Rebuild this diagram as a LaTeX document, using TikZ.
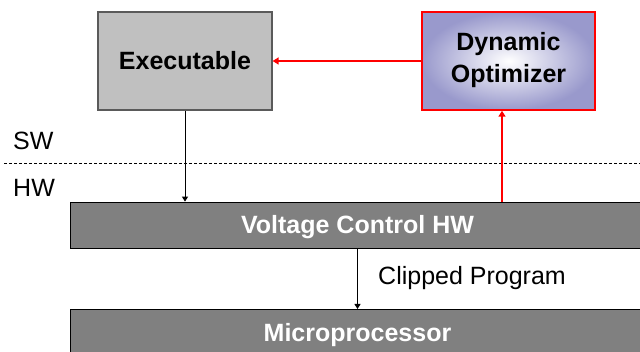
\documentclass[tikz,border=0pt]{standalone}
\usepackage{fontspec}
\setmainfont{Liberation Sans}
\usetikzlibrary{arrows.meta}
\definecolor{exefill}{HTML}{C0C0C0}
\definecolor{exeborder}{HTML}{5A5A5A}
\definecolor{barfill}{HTML}{808080}
\definecolor{optouter}{HTML}{9999CC}
\definecolor{optred}{HTML}{FF0000}
\tikzset{
  x=1pt, y=1pt,
  txt/.style={font=\fontsize{25}{30}\selectfont},
  boldtxt/.style={font=\fontsize{25}{30}\selectfont\bfseries},
  exebox/.style={draw=exeborder, line width=1.2pt, fill=exefill, minimum width=174pt, minimum height=98pt, inner sep=0pt, boldtxt, text height=18pt, text depth=0pt},
  optbox/.style={draw=optred, line width=1.5pt, inner color=white, outer color=optouter, minimum width=173pt, minimum height=98pt, inner sep=0pt, boldtxt, align=center},
  bar/.style={draw=black, line width=0.8pt, fill=barfill, inner sep=0pt, text=white, boldtxt, text height=18pt, text depth=0pt},
  blackarrow/.style={draw=black, line width=1pt, -{Triangle[length=5pt,width=6pt]}},
  redarrow/.style={draw=optred, line width=1.5pt, -{Triangle[length=6pt,width=7pt]}},
}
\begin{document}
\begin{tikzpicture}
\useasboundingbox (0,0) rectangle (640,-352);
\node[exebox] (exe) at (185,-61) {Executable};
\node[optbox] (opt) at (508.5,-61) {\raisebox{-3pt}{\begin{tabular}{@{}c@{}}Dynamic\\[2pt]Optimizer\end{tabular}}};
\node[bar, minimum width=575pt, minimum height=46pt] (volt) at (357.5,-225) {Voltage Control HW};
\node[bar, minimum width=575pt, minimum height=46pt, anchor=north] (micro) at (357.5,-309) {Microprocessor};
\draw[dashed, line width=0.8pt, dash pattern=on 3pt off 2pt] (4,-163) coordinate (dl) -- (640,-163) coordinate (dr);
\node[txt, anchor=base west, inner sep=0pt] (sw) at (13,-150) {SW};
\node[txt, anchor=base west, inner sep=0pt] (hw) at (13,-197) {HW};
\node[txt, anchor=base west, inner sep=0pt] (clip) at (378,-285) {Clipped Program};
\coordinate (r) at (502,-202);
\draw[blackarrow] (exe.south) -- (exe.south |- volt.north);
\draw[redarrow] (r) -- (r |- opt.south);
\draw[redarrow] (opt.west) -- (exe.east);
\draw[blackarrow] (volt.south) -- (micro.north);
\end{tikzpicture}
\end{document}
